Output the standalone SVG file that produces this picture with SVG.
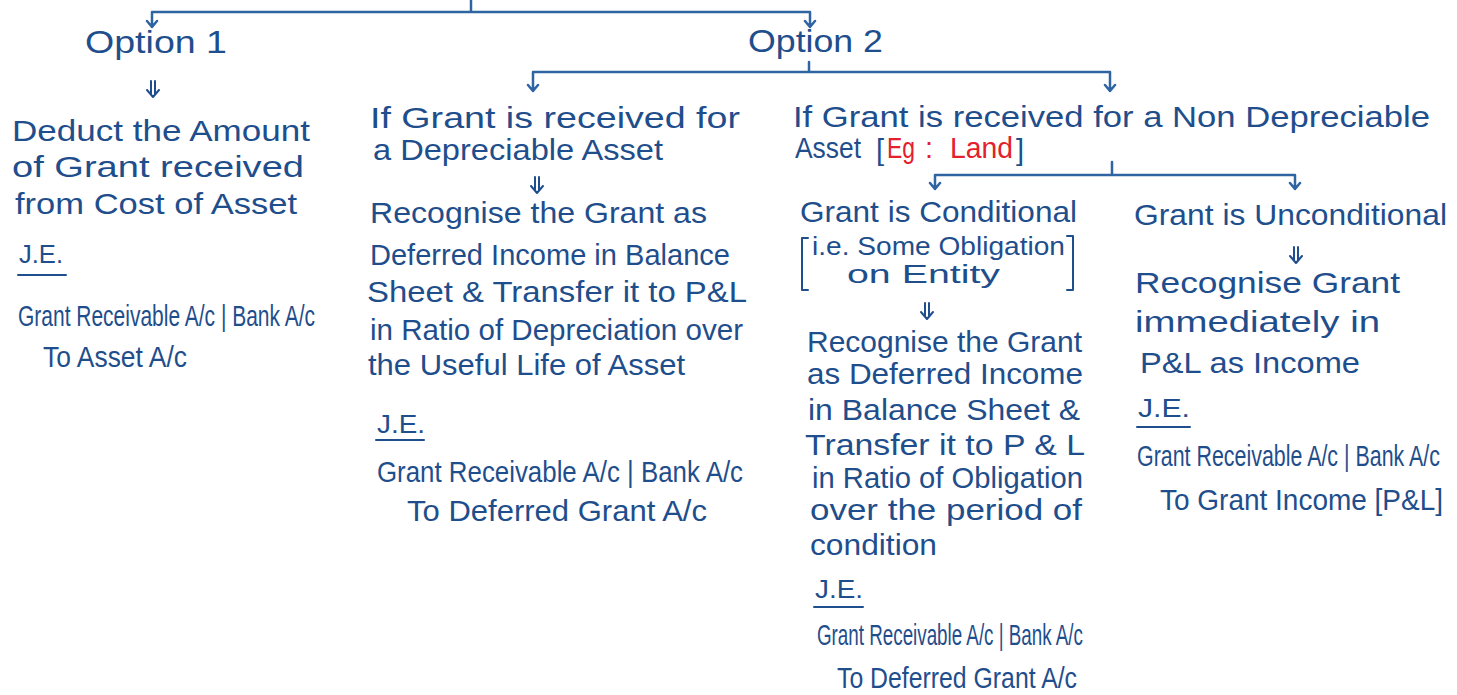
<svg xmlns="http://www.w3.org/2000/svg" width="1457" height="695" viewBox="0 0 1457 695">
<style>
text{font-family:"Liberation Sans","Open Sans",sans-serif;fill:#1f4e8c;font-size:29px}
.op{font-size:31px}
.sm{font-size:26px}
.je{font-size:29px}
.jt{font-size:21px}
.red{fill:#e3202c}
.ln{fill:none;stroke:#2f64a3;stroke-width:2.5;stroke-linecap:round;stroke-linejoin:round}
.pen{fill:none;stroke:#1f4e8c;stroke-width:2;stroke-linecap:round;stroke-linejoin:round}
</style>
<rect width="1457" height="695" fill="#ffffff"/>
<defs>
<path id="dbl" d="M-2,0 V13 M2,0 V13 M-6,9 L0,16 L6,9"/>
</defs>
<g id="connectors">
<path class="ln" d="M471,0 V12 M152,12 H810 M152,12 V27 M147,21 L152,27 L157,21 M810,12 V27 M805,21 L810,27 L815,21"/>
<path class="ln" d="M809,62 V72 M533,72 H1110 M533,72 V91 M528,85 L533,91 L538,85 M1110,72 V91 M1105,85 L1110,91 L1115,85"/>
<path class="ln" d="M1112,162 V175 M935,175 H1295 M935,175 V189 M930,183 L935,189 L940,183 M1295,175 V189 M1290,183 L1295,189 L1300,183"/>
<use href="#dbl" class="pen" x="153" y="81"/>
<use href="#dbl" class="pen" x="537" y="177"/>
<use href="#dbl" class="pen" x="927" y="303"/>
<use href="#dbl" class="pen" x="1296" y="247"/>
</g>
<g id="option1">
<text class="op" x="85" y="53" textLength="142" lengthAdjust="spacingAndGlyphs">Option 1</text>
</g>
<g id="option2">
<text class="op" x="748" y="52" textLength="135" lengthAdjust="spacingAndGlyphs">Option 2</text>
</g>
<g id="opt1-deduct">
<text x="12" y="141" textLength="298" lengthAdjust="spacingAndGlyphs">Deduct the Amount</text>
<text x="12" y="177" textLength="292" lengthAdjust="spacingAndGlyphs">of Grant received</text>
<text x="15" y="214" textLength="282" lengthAdjust="spacingAndGlyphs">from Cost of Asset</text>
</g>
<g id="opt1-je">
<text class="sm" x="19" y="263" textLength="44" lengthAdjust="spacingAndGlyphs">J.E.</text>
<path class="pen" d="M18,275 H66"/>
<text class="jt" transform="translate(18,326) scale(1,1.38)" x="0" y="0" textLength="297" lengthAdjust="spacingAndGlyphs">Grant Receivable A/c | Bank A/c</text>
<text class="je" x="43" y="367" textLength="144" lengthAdjust="spacingAndGlyphs">To Asset A/c</text>
</g>
<g id="depreciable">
<text x="370" y="128" textLength="370" lengthAdjust="spacingAndGlyphs">If Grant is received for</text>
<text x="373" y="160" textLength="290" lengthAdjust="spacingAndGlyphs">a Depreciable Asset</text>
</g>
<g id="depreciable-treatment">
<text x="370" y="223" textLength="337" lengthAdjust="spacingAndGlyphs">Recognise the Grant as</text>
<text x="370" y="265" textLength="360" lengthAdjust="spacingAndGlyphs">Deferred Income in Balance</text>
<text x="367" y="302" textLength="380" lengthAdjust="spacingAndGlyphs">Sheet &amp; Transfer it to P&amp;L</text>
<text x="370" y="340" textLength="373" lengthAdjust="spacingAndGlyphs">in Ratio of Depreciation over</text>
<text x="368" y="375" textLength="317" lengthAdjust="spacingAndGlyphs">the Useful Life of Asset</text>
</g>
<g id="depreciable-je">
<text class="sm" x="377" y="433" textLength="48" lengthAdjust="spacingAndGlyphs">J.E.</text>
<path class="pen" d="M376,440 H424"/>
<text class="je" x="377" y="482" textLength="366" lengthAdjust="spacingAndGlyphs">Grant Receivable A/c | Bank A/c</text>
<text class="je" x="407" y="521" textLength="300" lengthAdjust="spacingAndGlyphs">To Deferred Grant A/c</text>
</g>
<g id="non-depreciable">
<text x="793" y="127" textLength="637" lengthAdjust="spacingAndGlyphs">If Grant is received for a Non Depreciable</text>
<text x="795" y="158" textLength="66" lengthAdjust="spacingAndGlyphs">Asset</text>
<text x="876" y="160">[</text>
<text class="red" x="887" y="158" textLength="28" lengthAdjust="spacingAndGlyphs">Eg</text>
<text class="red" x="925" y="158">:</text>
<text class="red" x="950" y="158" textLength="63" lengthAdjust="spacingAndGlyphs">Land</text>
<text x="1016" y="160">]</text>
</g>
<g id="conditional">
<text x="800" y="222" textLength="277" lengthAdjust="spacingAndGlyphs">Grant is Conditional</text>
<path class="pen" d="M808,238 H802 V290 H808 M1067,236 H1073 V290 H1067"/>
<text class="sm" x="812" y="255" textLength="253" lengthAdjust="spacingAndGlyphs">i.e. Some Obligation</text>
<text class="sm" x="847" y="283" textLength="153" lengthAdjust="spacingAndGlyphs">on Entity</text>
</g>
<g id="conditional-treatment">
<text x="807" y="352" textLength="275" lengthAdjust="spacingAndGlyphs">Recognise the Grant</text>
<text x="807" y="384" textLength="276" lengthAdjust="spacingAndGlyphs">as Deferred Income</text>
<text x="808" y="420" textLength="272" lengthAdjust="spacingAndGlyphs">in Balance Sheet &amp;</text>
<text x="805" y="455" textLength="280" lengthAdjust="spacingAndGlyphs">Transfer it to P &amp; L</text>
<text x="812" y="488" textLength="271" lengthAdjust="spacingAndGlyphs">in Ratio of Obligation</text>
<text x="810" y="520" textLength="272" lengthAdjust="spacingAndGlyphs">over the period of</text>
<text x="810" y="555" textLength="127" lengthAdjust="spacingAndGlyphs">condition</text>
</g>
<g id="conditional-je">
<text class="sm" x="815" y="598" textLength="48" lengthAdjust="spacingAndGlyphs">J.E.</text>
<path class="pen" d="M814,607 H863"/>
<text class="jt" transform="translate(817,645) scale(1,1.38)" x="0" y="0" textLength="266" lengthAdjust="spacingAndGlyphs">Grant Receivable A/c | Bank A/c</text>
<text class="je" x="837" y="688" textLength="240" lengthAdjust="spacingAndGlyphs">To Deferred Grant A/c</text>
</g>
<g id="unconditional">
<text x="1134" y="225" textLength="313" lengthAdjust="spacingAndGlyphs">Grant is Unconditional</text>
</g>
<g id="unconditional-treatment">
<text x="1135" y="293" textLength="265" lengthAdjust="spacingAndGlyphs">Recognise Grant</text>
<text x="1135" y="332" textLength="245" lengthAdjust="spacingAndGlyphs">immediately in</text>
<text x="1140" y="373" textLength="220" lengthAdjust="spacingAndGlyphs">P&amp;L as Income</text>
</g>
<g id="unconditional-je">
<text class="sm" x="1138" y="417" textLength="52" lengthAdjust="spacingAndGlyphs">J.E.</text>
<path class="pen" d="M1137,427 H1190"/>
<text class="jt" transform="translate(1137,466) scale(1,1.38)" x="0" y="0" textLength="303" lengthAdjust="spacingAndGlyphs">Grant Receivable A/c | Bank A/c</text>
<text class="je" x="1160" y="510" textLength="283" lengthAdjust="spacingAndGlyphs">To Grant Income [P&amp;L]</text>
</g>
</svg>
